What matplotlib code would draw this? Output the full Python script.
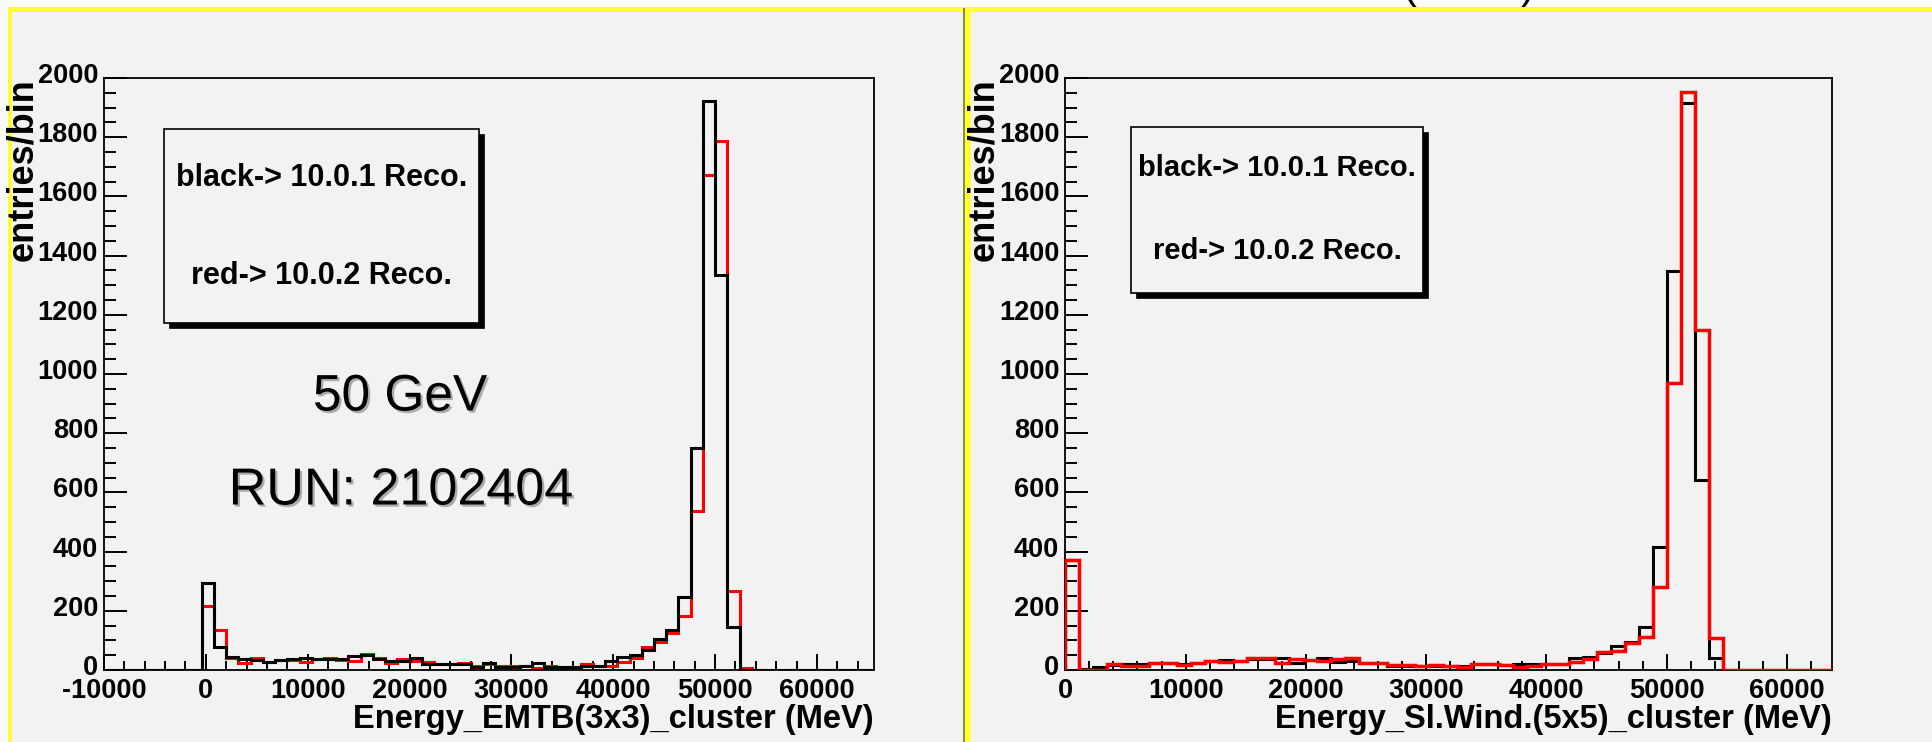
import matplotlib
matplotlib.use("Agg")
import matplotlib.pyplot as plt
import matplotlib.patheffects as pe
import numpy as np
from matplotlib.patches import Rectangle
from matplotlib.ticker import MultipleLocator
from matplotlib.transforms import ScaledTranslation

plt.rcParams["font.family"] = ["Liberation Sans", "DejaVu Sans"]
plt.rcParams["font.weight"] = "bold"
plt.rcParams["axes.labelweight"] = "bold"
plt.rcParams["axes.unicode_minus"] = False

# ---------------- data ----------------
# Left: Energy_EMTB(3x3)_cluster, 63 bins of 1200 MeV starting at -10000 MeV
emtb_start = -10000
emtb_width = 1200
emtb_reco_1001 = [0] * 8 + [
    293, 77, 45, 36, 34, 28, 34, 36, 40, 36, 37, 38, 47, 50, 38, 31, 31, 40,
    20, 20, 20, 20, 11, 22, 11, 11, 13, 22, 9, 9, 9, 13, 13, 31, 45, 50, 68,
    106, 135, 248, 751, 1921, 1335, 144, 0] + [0] * 10
emtb_reco_1002 = [0] * 8 + [
    216, 135, 42, 22, 40, 26, 34, 34, 28, 38, 40, 34, 32, 54, 40, 22, 36, 32,
    28, 20, 20, 22, 13, 20, 13, 13, 13, 7, 13, 2, 11, 20, 13, 13, 28, 42, 79,
    95, 124, 183, 537, 1673, 1788, 268, 8] + [0] * 10

# Right: Energy_Sl.Wind.(5x5)_cluster, bins of 1163 MeV starting at 0 MeV
slw_start = 0
slw_width = 1163
slw_reco_1001 = [
    372, 3, 9, 17, 20, 20, 25, 25, 20, 25,
    31, 34, 30, 38, 38, 39, 24, 34, 39, 28,
    30, 24, 22, 14, 12, 15, 14, 12, 15, 19,
    19, 17, 19, 19, 19, 19, 39, 45, 56, 82,
    96, 146, 417, 1348, 1914, 642, 39, 0] + [0] * 7
slw_reco_1002 = [
    372, 0, 0, 20, 13, 13, 22, 25, 17, 25,
    30, 28, 30, 39, 39, 22, 36, 33, 30, 36,
    39, 24, 22, 18, 17, 15, 16, 14, 11, 19,
    19, 17, 11, 15, 19, 19, 28, 36, 62, 65,
    90, 113, 282, 968, 1953, 1150, 107, 0] + [0] * 7

y_ticks = list(range(0, 2001, 200))
left_xlim = (-10000, 65600)
right_xlim = (0, 63750)
left_xlabel = "Energy_EMTB(3x3)_cluster (MeV)"
right_xlabel = "Energy_Sl.Wind.(5x5)_cluster (MeV)"
ylabel = "entries/bin"
legend_lines = ["black-> 10.0.1 Reco.", "red-> 10.0.2 Reco."]
energy_text = "50 GeV"
run_text = "RUN: 2102404"

# ---------------- figure ----------------
W, H = 1932, 742
BG = "#f2f2f2"
fig = plt.figure(figsize=(W / 100, H / 100), dpi=100, facecolor=BG)


def fx(x):
    return x / W


def fy(y):
    return 1 - y / H


def frame_rect(x0, y0, x1, y1, **kw):
    fig.patches.append(Rectangle((fx(x0), fy(y1)), (x1 - x0) / W, (y1 - y0) / H,
                                 transform=fig.transFigure, **kw))


# page frame: white margin and yellow borders
frame_rect(0, 0, W, 7.5, facecolor="white", edgecolor="none", zorder=-5)
frame_rect(0, 0, 7.5, H, facecolor="#fafafa", edgecolor="none", zorder=-5)
frame_rect(7.5, 7.5, W, 12, facecolor="#ffff33", edgecolor="none", zorder=-4)
frame_rect(7.5, 7.5, 12, H, facecolor="#ffff33", edgecolor="none", zorder=-4)
frame_rect(963, 7.5, 964.5, H, facecolor="#8c8c3c", edgecolor="none", zorder=-4)
frame_rect(964.5, 7.5, 971, H, facecolor="#ffff33", edgecolor="none", zorder=-4)
# lower ends of the page title's brackets, above the frame
fig.text(fx(1409), fy(7), "(", fontsize=30, fontweight="normal", ha="center", va="bottom")
fig.text(fx(1528), fy(7), ")", fontsize=30, fontweight="normal", ha="center", va="bottom")


def draw_panel(rect, start, width, black, red, red_on_top, xlim, xlabel,
               red_lw):
    ax = fig.add_axes(rect)
    ax.set_facecolor(BG)
    edges = start + width * np.arange(len(black) + 1)
    z_black, z_red = (2, 3) if red_on_top else (3, 2)
    st_b = ax.stairs(black, edges, baseline=0, color="black", lw=2.2, zorder=z_black)
    st_r = ax.stairs(red, edges, baseline=0, color="#ff0000", lw=red_lw, zorder=z_red)
    for st in (st_b, st_r):
        st.set_joinstyle("miter")
        st.set_capstyle("butt")
    ax.set_xlim(*xlim)
    ax.set_ylim(0, 2000)
    ax.set_yticks(y_ticks)
    ax.yaxis.set_minor_locator(MultipleLocator(50))
    ax.set_xticks(np.arange(-10000 if xlim[0] < 0 else 0, xlim[1], 10000))
    ax.xaxis.set_minor_locator(MultipleLocator(2000))
    ax.tick_params(axis="y", which="major", direction="in", length=16.5,
                   width=1.4, labelsize=19.5, pad=4.3, right=False)
    ax.tick_params(axis="y", which="minor", direction="in", length=8.6,
                   width=1.4, right=False)
    ax.tick_params(axis="x", which="major", direction="in", length=11.5,
                   width=1.4, labelsize=19.5, pad=6, top=False)
    ax.tick_params(axis="x", which="minor", direction="in", length=6.5,
                   width=1.4, top=False)
    for sp in ax.spines.values():
        sp.set_linewidth(1.3)
    for lab in ax.get_yticklabels():
        lab.set_transform(lab.get_transform()
                          + ScaledTranslation(0, 5 / 100, fig.dpi_scale_trans))
    ax.set_xlabel(xlabel, loc="right", fontsize=23.5, fontweight="bold", labelpad=0)
    ax.set_ylabel(ylabel, loc="top", fontsize=26, fontweight="bold", labelpad=-2)
    return ax


ax_l = draw_panel([fx(104), fy(670), 770 / W, 592 / H], emtb_start, emtb_width,
                  emtb_reco_1001, emtb_reco_1002, False, left_xlim, left_xlabel, 2.2)
ax_r = draw_panel([fx(1065.3), fy(670), 766.7 / W, 592 / H], slw_start, slw_width,
                  slw_reco_1001, slw_reco_1002, True, right_xlim, right_xlabel, 2.5)


def legend_box(x0, y0, x1, y1, ty1, ty2, size):
    frame_rect(x0 + 5, y0 + 5, x1 + 5, y1 + 5, facecolor="black",
               edgecolor="black", lw=0.5, zorder=5)
    frame_rect(x0, y0, x1, y1, facecolor=BG, edgecolor="black", lw=1.2, zorder=6)
    xc = (x0 + x1) / 2
    fig.text(fx(xc), fy(ty1), legend_lines[0], fontsize=size, ha="center",
             va="center", zorder=7)
    fig.text(fx(xc), fy(ty2), legend_lines[1], fontsize=size, ha="center",
             va="center", zorder=7)


legend_box(164, 129, 479, 323, 178, 276, 22)
legend_box(1131, 127, 1423, 293, 168, 251, 21)

shadow = [pe.SimplePatchShadow(offset=(1.6, -1.6), shadow_rgbFace="#9a9a9a",
                               alpha=0.8), pe.Normal()]
fig.text(fx(400), fy(397), energy_text, fontsize=37, fontweight="normal",
         ha="center", va="center", path_effects=shadow)
fig.text(fx(401), fy(491), run_text, fontsize=37.5, fontweight="normal",
         ha="center", va="center", path_effects=shadow)

fig.savefig("out.png", dpi=100, facecolor=BG)
